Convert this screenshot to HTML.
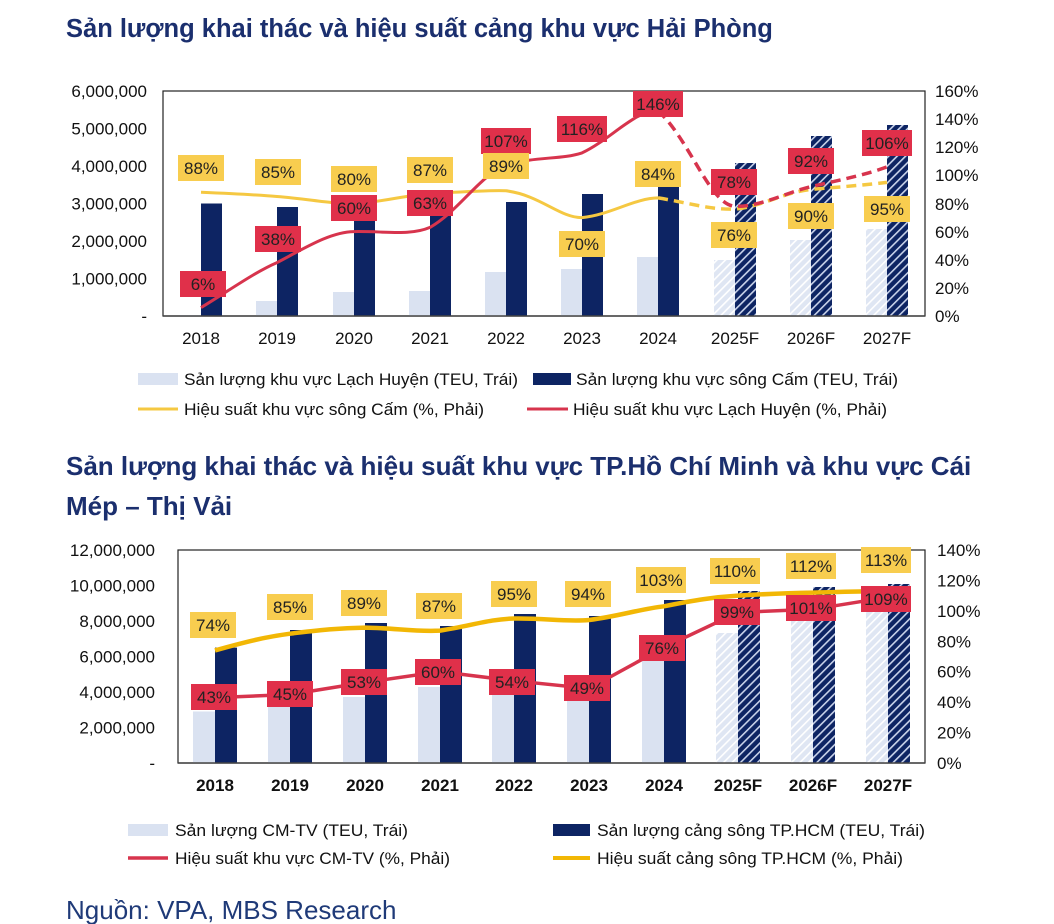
<!DOCTYPE html>
<html><head><meta charset="utf-8"><style>
html,body{margin:0;padding:0;background:#fff;width:1054px;height:924px;overflow:hidden}
svg{display:block;font-family:"Liberation Sans",Arial,sans-serif}
</style></head><body>
<svg width="1054" height="924" viewBox="0 0 1054 924" xmlns="http://www.w3.org/2000/svg">
<defs>
<pattern id="hd" patternUnits="userSpaceOnUse" width="6" height="6" patternTransform="rotate(45)">
<rect width="6" height="6" fill="#0d2463"/><rect width="1.6" height="6" fill="#c9d3ea"/></pattern>
<pattern id="hl" patternUnits="userSpaceOnUse" width="6" height="6" patternTransform="rotate(45)">
<rect width="6" height="6" fill="#dfe6f3"/><rect width="1.6" height="6" fill="#ffffff"/></pattern>
</defs>
<text x="66" y="37" font-size="25.5" font-weight="bold" fill="#1b2f6e">Sản lượng khai thác và hiệu suất cảng khu vực Hải Phòng</text>
<text x="66" y="475" font-size="26" font-weight="bold" fill="#1b2f6e">Sản lượng khai thác và hiệu suất khu vực TP.Hồ Chí Minh và khu vực Cái</text>
<text x="66" y="515" font-size="26" font-weight="bold" fill="#1b2f6e">Mép – Thị Vải</text>
<text x="66" y="919" font-size="26" fill="#1f3a78">Nguồn: VPA, MBS Research</text>

<!-- CHART 1 -->
<rect x="163" y="91" width="762" height="225" fill="none" stroke="#222" stroke-width="1.2"/>
<g font-size="17" fill="#111" text-anchor="end">
<text x="147" y="322">-</text><text x="147" y="284.5">1,000,000</text><text x="147" y="247">2,000,000</text><text x="147" y="209.5">3,000,000</text><text x="147" y="172">4,000,000</text><text x="147" y="134.5">5,000,000</text><text x="147" y="97">6,000,000</text>
</g>
<g font-size="17" fill="#111">
<text x="935" y="322">0%</text><text x="935" y="294">20%</text><text x="935" y="266">40%</text><text x="935" y="238">60%</text><text x="935" y="210">80%</text><text x="935" y="181">100%</text><text x="935" y="153">120%</text><text x="935" y="125">140%</text><text x="935" y="97">160%</text>
</g>
<g fill="#dae2f1">
<rect x="180" y="315" width="21" height="1"/><rect x="256" y="301" width="21" height="15"/><rect x="333" y="292" width="21" height="24"/><rect x="409" y="291" width="21" height="25"/><rect x="485" y="272" width="21" height="44"/><rect x="561" y="269" width="21" height="47"/><rect x="637" y="257" width="21" height="59"/>
</g>
<g fill="url(#hl)"><rect x="714" y="260" width="21" height="56"/><rect x="790" y="240" width="21" height="76"/><rect x="866" y="229" width="21" height="87"/></g>
<g fill="#0d2463">
<rect x="201" y="203.5" width="21" height="112.5"/><rect x="277" y="207" width="21" height="109"/><rect x="354" y="207" width="21" height="109"/><rect x="430" y="203.5" width="21" height="112.5"/><rect x="506" y="202" width="21" height="114"/><rect x="582" y="194" width="21" height="122"/><rect x="658" y="187" width="21" height="129"/>
</g>
<g fill="url(#hd)"><rect x="735" y="163" width="21" height="153"/><rect x="811" y="136" width="21" height="180"/><rect x="887" y="125" width="21" height="191"/></g>
<line x1="163" y1="316" x2="925" y2="316" stroke="#444" stroke-width="1.5"/>
<g font-size="17" fill="#111" text-anchor="middle">
<text x="201" y="344">2018</text><text x="277" y="344">2019</text><text x="354" y="344">2020</text><text x="430" y="344">2021</text><text x="506" y="344">2022</text><text x="582" y="344">2023</text><text x="658" y="344">2024</text><text x="735" y="344">2025F</text><text x="811" y="344">2026F</text><text x="887" y="344">2027F</text>
</g>
<path d="M201,192.3 C240,194 260,195 277,196.5 C310,199 330,204 354,203.5 C385,202 405,195 430,193.7 C460,192 490,190 506,190.8 C540,195 560,218 582,217.6 C610,215 635,198 658,197.9" fill="none" stroke="#f5c842" stroke-width="3"/>
<path d="M658,197.9 C690,203 710,210 735,209.1 C760,207 785,192 811,189.4 C840,187 865,185 887,182.4" fill="none" stroke="#f5c842" stroke-width="3.5" stroke-dasharray="10,6"/>
<path d="M201,307.6 C230,290 255,272 277,262.6 C305,248 330,232 354,231.6 C385,231 410,236 430,227.4 C460,210 480,175 506,165.5 C535,156 560,160 582,152.9 C610,140 635,110 658,110.7" fill="none" stroke="#d7344d" stroke-width="3"/>
<path d="M658,110.7 C690,140 710,205 735,206.3 C760,207 785,193 811,186.6 C840,180 865,175 887,166.9" fill="none" stroke="#d7344d" stroke-width="3.5" stroke-dasharray="10,6"/>
<g font-size="17" fill="#222" text-anchor="middle">
<rect x="178" y="155" width="46" height="26" fill="#f8cd4f"/><text x="201" y="174">88%</text>
<rect x="255" y="159" width="46" height="26" fill="#f8cd4f"/><text x="278" y="178">85%</text>
<rect x="331" y="166" width="46" height="26" fill="#f8cd4f"/><text x="354" y="185">80%</text>
<rect x="407" y="157" width="46" height="26" fill="#f8cd4f"/><text x="430" y="176">87%</text>
<rect x="559" y="231" width="46" height="26" fill="#f8cd4f"/><text x="582" y="250">70%</text>
<rect x="635" y="161" width="46" height="26" fill="#f8cd4f"/><text x="658" y="180">84%</text>
<rect x="711" y="222" width="46" height="26" fill="#f8cd4f"/><text x="734" y="241">76%</text>
<rect x="788" y="203" width="46" height="26" fill="#f8cd4f"/><text x="811" y="222">90%</text>
<rect x="864" y="196" width="46" height="26" fill="#f8cd4f"/><text x="887" y="215">95%</text>
<rect x="180" y="271" width="46" height="26" fill="#e0304a"/><text x="203" y="290">6%</text>
<rect x="255" y="226" width="46" height="26" fill="#e0304a"/><text x="278" y="245">38%</text>
<rect x="331" y="195" width="46" height="26" fill="#e0304a"/><text x="354" y="214">60%</text>
<rect x="407" y="190" width="46" height="26" fill="#e0304a"/><text x="430" y="209">63%</text>
<rect x="481" y="128" width="50" height="26" fill="#e0304a"/><text x="506" y="147">107%</text>
<rect x="483" y="153" width="46" height="26" fill="#f8cd4f"/><text x="506" y="172">89%</text>
<rect x="557" y="116" width="50" height="26" fill="#e0304a"/><text x="582" y="135">116%</text>
<rect x="633" y="91" width="50" height="26" fill="#e0304a"/><text x="658" y="110">146%</text>
<rect x="711" y="169" width="46" height="26" fill="#e0304a"/><text x="734" y="188">78%</text>
<rect x="788" y="148" width="46" height="26" fill="#e0304a"/><text x="811" y="167">92%</text>
<rect x="862" y="130" width="50" height="26" fill="#e0304a"/><text x="887" y="149">106%</text>
</g>
<g font-size="17" fill="#111">
<rect x="138" y="373" width="40" height="12" fill="#dae2f1"/><text x="184" y="385" textLength="334" lengthAdjust="spacingAndGlyphs">Sản lượng khu vực Lạch Huyện (TEU, Trái)</text>
<rect x="533" y="373" width="38" height="12" fill="#0d2463"/><text x="576" y="385" textLength="322" lengthAdjust="spacingAndGlyphs">Sản lượng khu vực sông Cấm (TEU, Trái)</text>
<line x1="138" y1="409" x2="178" y2="409" stroke="#f5c842" stroke-width="3"/><text x="184" y="415" textLength="300" lengthAdjust="spacingAndGlyphs">Hiệu suất khu vực sông Cấm (%, Phải)</text>
<line x1="527" y1="409" x2="568" y2="409" stroke="#d7344d" stroke-width="3"/><text x="573" y="415" textLength="314" lengthAdjust="spacingAndGlyphs">Hiệu suất khu vực Lạch Huyện (%, Phải)</text>
</g>

<!-- CHART 2 -->
<rect x="178" y="550" width="747" height="213" fill="none" stroke="#222" stroke-width="1.2"/>
<g font-size="17" fill="#111" text-anchor="end">
<text x="155" y="769">-</text><text x="155" y="733.5">2,000,000</text><text x="155" y="698">4,000,000</text><text x="155" y="662.5">6,000,000</text><text x="155" y="627">8,000,000</text><text x="155" y="591.5">10,000,000</text><text x="155" y="556">12,000,000</text>
</g>
<g font-size="17" fill="#111">
<text x="937" y="769">0%</text><text x="937" y="738.6">20%</text><text x="937" y="708.1">40%</text><text x="937" y="677.7">60%</text><text x="937" y="647.3">80%</text><text x="937" y="616.9">100%</text><text x="937" y="586.4">120%</text><text x="937" y="556">140%</text>
</g>
<g fill="#dae2f1">
<rect x="193" y="711.5" width="22" height="51.5"/><rect x="268" y="701" width="22" height="62"/><rect x="343" y="697" width="22" height="66"/><rect x="418" y="687" width="22" height="76"/><rect x="492" y="692" width="22" height="71"/><rect x="567" y="695.5" width="22" height="67.5"/><rect x="642" y="660" width="22" height="103"/>
</g>
<g fill="url(#hl)"><rect x="716" y="633" width="22" height="130"/><rect x="791" y="621" width="22" height="142"/><rect x="866" y="610" width="22" height="153"/></g>
<g fill="#0d2463">
<rect x="215" y="647.6" width="22" height="115.4"/><rect x="290" y="630" width="22" height="133"/><rect x="365" y="623" width="22" height="140"/><rect x="440" y="626" width="22" height="137"/><rect x="514" y="614" width="22" height="149"/><rect x="589" y="616" width="22" height="147"/><rect x="664" y="600" width="22" height="163"/>
</g>
<g fill="url(#hd)"><rect x="738" y="591" width="22" height="172"/><rect x="813" y="587" width="22" height="176"/><rect x="888" y="584" width="22" height="179"/></g>
<line x1="178" y1="763" x2="925" y2="763" stroke="#444" stroke-width="1.5"/>
<g font-size="17" font-weight="bold" fill="#111" text-anchor="middle">
<text x="215" y="791">2018</text><text x="290" y="791">2019</text><text x="365" y="791">2020</text><text x="440" y="791">2021</text><text x="514" y="791">2022</text><text x="589" y="791">2023</text><text x="664" y="791">2024</text><text x="738" y="791">2025F</text><text x="813" y="791">2026F</text><text x="888" y="791">2027F</text>
</g>
<polyline points="215,697.6 290,694.5 365,682.4 440,671.7 514,680.8 589,688.5 664,647.4 738,612.4 813,609.3 888,597.2" fill="none" stroke="#d7344d" stroke-width="3.5"/>
<path d="M215,650.4 C245,642 265,637 290,633.7 C320,630 340,628 365,627.6 C395,628 415,632 440,630.6 C470,626 490,619 514,618.5 C545,618 565,622 589,620 C620,616 640,609 664,606.3 C695,600 715,597 738,595.6 C765,594 790,593 813,592.6 C840,592 865,591 888,591.1" fill="none" stroke="#f2b705" stroke-width="4.5"/>
<g font-size="17" fill="#222" text-anchor="middle">
<rect x="190" y="612" width="46" height="26" fill="#f8cd4f"/><text x="213" y="631">74%</text>
<rect x="267" y="594" width="46" height="26" fill="#f8cd4f"/><text x="290" y="613">85%</text>
<rect x="341" y="590" width="46" height="26" fill="#f8cd4f"/><text x="364" y="609">89%</text>
<rect x="416" y="593" width="46" height="26" fill="#f8cd4f"/><text x="439" y="612">87%</text>
<rect x="491" y="581" width="46" height="26" fill="#f8cd4f"/><text x="514" y="600">95%</text>
<rect x="565" y="581" width="46" height="26" fill="#f8cd4f"/><text x="588" y="600">94%</text>
<rect x="636" y="567" width="50" height="26" fill="#f8cd4f"/><text x="661" y="586">103%</text>
<rect x="710" y="558" width="50" height="26" fill="#f8cd4f"/><text x="735" y="577">110%</text>
<rect x="786" y="553" width="50" height="26" fill="#f8cd4f"/><text x="811" y="572">112%</text>
<rect x="861" y="547" width="50" height="26" fill="#f8cd4f"/><text x="886" y="566">113%</text>
<rect x="191" y="684" width="46" height="26" fill="#e0304a"/><text x="214" y="703">43%</text>
<rect x="267" y="681" width="46" height="26" fill="#e0304a"/><text x="290" y="700">45%</text>
<rect x="341" y="669" width="46" height="26" fill="#e0304a"/><text x="364" y="688">53%</text>
<rect x="415" y="659" width="46" height="26" fill="#e0304a"/><text x="438" y="678">60%</text>
<rect x="489" y="669" width="46" height="26" fill="#e0304a"/><text x="512" y="688">54%</text>
<rect x="564" y="675" width="46" height="26" fill="#e0304a"/><text x="587" y="694">49%</text>
<rect x="639" y="635" width="46" height="26" fill="#e0304a"/><text x="662" y="654">76%</text>
<rect x="714" y="599" width="46" height="26" fill="#e0304a"/><text x="737" y="618">99%</text>
<rect x="786" y="595" width="50" height="26" fill="#e0304a"/><text x="811" y="614">101%</text>
<rect x="861" y="586" width="50" height="26" fill="#e0304a"/><text x="886" y="605">109%</text>
</g>
<g font-size="17" fill="#111">
<rect x="128" y="824" width="40" height="12" fill="#dae2f1"/><text x="175" y="836" textLength="233" lengthAdjust="spacingAndGlyphs">Sản lượng CM-TV (TEU, Trái)</text>
<rect x="553" y="824" width="37" height="12" fill="#0d2463"/><text x="597" y="836" textLength="328" lengthAdjust="spacingAndGlyphs">Sản lượng cảng sông TP.HCM (TEU, Trái)</text>
<line x1="128" y1="858" x2="168" y2="858" stroke="#d7344d" stroke-width="3.5"/><text x="175" y="864" textLength="275" lengthAdjust="spacingAndGlyphs">Hiệu suất khu vực CM-TV (%, Phải)</text>
<line x1="553" y1="858" x2="590" y2="858" stroke="#f2b705" stroke-width="4"/><text x="597" y="864" textLength="306" lengthAdjust="spacingAndGlyphs">Hiệu suất cảng sông TP.HCM (%, Phải)</text>
</g>
</svg>
</body></html>
